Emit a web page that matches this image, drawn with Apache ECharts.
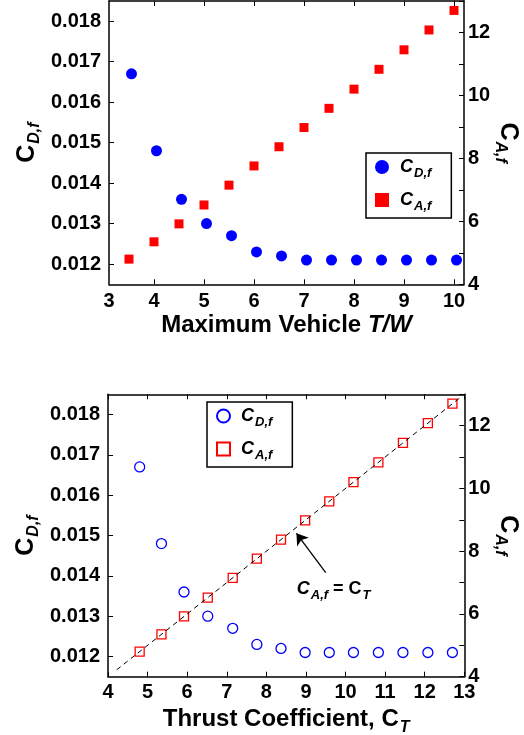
<!DOCTYPE html>
<html>
<head>
<meta charset="utf-8">
<script src="https://cdn.jsdelivr.net/npm/echarts@6/dist/echarts.min.js"></script>
<style>
  html, body { margin: 0; padding: 0; background: #fff; }
  #chart { width: 524px; height: 735px; }
</style>
</head>
<body>
<div id="chart"></div>
<script>
// Upper panel: maximum vehicle T/W for the area-coefficient markers
const thrustToWeight = [3.5, 4, 4.5, 5, 5.5, 6, 6.5, 7, 7.5, 8, 8.5, 9, 9.5, 10];
// Upper panel: T/W positions of the drag-coefficient markers (drawn a touch to the right)
const thrustToWeightDrag = [3.55, 4.05, 4.55, 5.05, 5.55, 6.05, 6.55, 7.05, 7.55, 8.05, 8.55, 9.05, 9.55, 10.05];
// Skin-friction drag coefficient C_D,f
const dragCoef = [0.0167, 0.0148, 0.0136, 0.0130, 0.0127, 0.0123, 0.0122, 0.0121, 0.0121, 0.0121, 0.0121, 0.0121, 0.0121, 0.0121];
// Area coefficient C_A,f (equal to the thrust coefficient C_T)
const areaCoef = [4.8, 5.35, 5.92, 6.52, 7.15, 7.76, 8.37, 8.98, 9.59, 10.2, 10.83, 11.45, 12.08, 12.7];
// Lower panel x values: thrust coefficient C_T
const thrustCoef = [4.8, 5.35, 5.92, 6.52, 7.15, 7.76, 8.37, 8.98, 9.59, 10.2, 10.83, 11.45, 12.08, 12.7];

// Tick values
const twTicks = [4, 5, 6, 7, 8, 9, 10];
const cdTicks = [0.012, 0.013, 0.014, 0.015, 0.016, 0.017, 0.018];
const caLabels = [4, 6, 8, 10, 12];
// Reference line C_A,f = C_T (end points in C_T)
const identityEnds = [4.22, 12.9];
// Annotation text anchor and arrow (C_T, C_A,f)
const noteAnchor = [9.7, 6.8];
const arrowFrom = [9.5, 7.32];
const arrowTo = [8.76, 8.57];

const FONT = '"Liberation Sans", Arial, Helvetica, sans-serif';
const BLUE = '#0000ff';
const RED = '#ff0000';

const zip = (xs, ys) => xs.map((x, i) => [x, ys[i]]);

const tickLabel = { color: '#000', fontFamily: FONT, fontWeight: 'bold', fontSize: 20 };
const frameLine = { show: true, onZero: false, lineStyle: { color: '#000', width: 1.5 } };
const tickIn = { show: true, inside: true, length: 5, lineStyle: { color: '#000', width: 1 } };

const axisTitleRich = {
  c: { fontSize: 25, fontWeight: 'bold', fontFamily: FONT, color: '#000', lineHeight: 28 },
  s: { fontSize: 16, fontWeight: 'bold', fontStyle: 'italic', fontFamily: FONT, color: '#000', lineHeight: 18, padding: [16, 0, 0, 1] },
  n: { fontSize: 24, fontWeight: 'bold', fontFamily: FONT, color: '#000', lineHeight: 28 },
  i: { fontSize: 24, fontWeight: 'bold', fontStyle: 'italic', fontFamily: FONT, color: '#000', lineHeight: 28 }
};

const textRich = {
  c: { fontSize: 18, fontWeight: 'bold', fontStyle: 'italic', fontFamily: FONT, color: '#000', lineHeight: 20 },
  lc: { fontSize: 18, fontWeight: 'bold', fontStyle: 'italic', fontFamily: FONT, color: '#000', lineHeight: 20, padding: [0, 0, 0, 6] },
  s: { fontSize: 13, fontWeight: 'bold', fontStyle: 'italic', fontFamily: FONT, color: '#000', lineHeight: 14, padding: [13, 0, 0, 1] },
  u: { fontSize: 18, fontWeight: 'bold', fontFamily: FONT, color: '#000', lineHeight: 20 }
};

const legendNames = {
  cdTop: '{lc|C}{s|D,f}', caTop: '{lc|C}{s|A,f}',
  cdBottom: '{lc|C}{s|D,f}', caBottom: '{lc|C}{s|A,f}'
};

const cdAxis = (gridIndex) => ({
  type: 'value', gridIndex, position: 'left', min: 0.0115, max: 0.0185,
  axisLine: frameLine,
  axisTick: Object.assign({ customValues: cdTicks }, tickIn),
  axisLabel: Object.assign({ customValues: cdTicks, margin: 8, formatter: v => v.toFixed(3) }, tickLabel),
  splitLine: { show: false },
  name: '{c|C}{s|D,f}', nameLocation: 'middle', nameRotate: 90, nameGap: 68,
  nameMoveOverlap: false,
  nameTextStyle: { rich: axisTitleRich }
});

const caAxis = (gridIndex) => ({
  type: 'value', gridIndex, position: 'right', min: 4, max: 13, interval: 1,
  axisLine: frameLine,
  axisTick: tickIn,
  axisLabel: Object.assign({ customValues: caLabels, margin: 4 }, tickLabel),
  splitLine: { show: false },
  name: '{c|C}{s|A,f}', nameLocation: 'middle', nameRotate: -90, nameGap: 30,
  nameMoveOverlap: false,
  nameTextStyle: { rich: axisTitleRich }
});

const option = {
  animation: false,
  backgroundColor: '#fff',
  grid: [
    { left: 109, top: 1, width: 355, height: 283.3, outerBoundsMode: 'none', containLabel: false },
    { left: 108, top: 394.3, width: 356.3, height: 282.4, outerBoundsMode: 'none', containLabel: false }
  ],
  xAxis: [
    {
      type: 'value', gridIndex: 0, position: 'bottom', min: 3.1, max: 10.2,
      axisLine: frameLine,
      axisTick: Object.assign({ customValues: twTicks }, tickIn),
      axisLabel: Object.assign({ customValues: [3.1].concat(twTicks), margin: 7, formatter: v => String(Math.floor(v)) }, tickLabel),
      splitLine: { show: false },
      name: '{n|Maximum Vehicle }{i|T/W}', nameLocation: 'middle', nameGap: 27,
      nameTextStyle: { rich: axisTitleRich }
    },
    {
      type: 'value', gridIndex: 0, position: 'top', min: 3.1, max: 10.2,
      axisLine: frameLine,
      axisTick: Object.assign({ customValues: twTicks }, tickIn),
      axisLabel: { show: false }, splitLine: { show: false }
    },
    {
      type: 'value', gridIndex: 1, position: 'bottom', min: 4, max: 13, interval: 1,
      axisLine: frameLine, axisTick: tickIn,
      axisLabel: Object.assign({ margin: 6 }, tickLabel),
      splitLine: { show: false },
      name: '{n|Thrust Coefficient, C}{s|T}', nameLocation: 'middle', nameGap: 27,
      nameTextStyle: { rich: axisTitleRich }
    },
    {
      type: 'value', gridIndex: 1, position: 'top', min: 4, max: 13, interval: 1,
      axisLine: frameLine, axisTick: tickIn,
      axisLabel: { show: false }, splitLine: { show: false }
    }
  ],
  yAxis: [cdAxis(0), caAxis(0), cdAxis(1), caAxis(1)],
  legend: [
    {
      orient: 'vertical', left: 366, top: 153,
      data: ['cdTop', 'caTop'],
      itemWidth: 14, itemHeight: 14, itemGap: 7,
      padding: [1, 20, 5, 9],
      borderColor: '#000', borderWidth: 1.5, backgroundColor: '#fff',
      formatter: n => legendNames[n],
      textStyle: { rich: textRich },
      selectedMode: false
    },
    {
      orient: 'vertical', left: 207, top: 402,
      data: ['cdBottom', 'caBottom'],
      itemWidth: 13, itemHeight: 13, itemGap: 7,
      padding: [1, 20, 5, 9],
      borderColor: '#000', borderWidth: 1.5, backgroundColor: '#fff',
      itemStyle: { borderWidth: 2 },
      formatter: n => legendNames[n],
      textStyle: { rich: textRich },
      selectedMode: false
    }
  ],
  series: [
    {
      name: 'caTop', type: 'scatter', xAxisIndex: 0, yAxisIndex: 1,
      symbol: 'rect', symbolSize: 9, itemStyle: { color: RED, opacity: 1 },
      data: zip(thrustToWeight, areaCoef)
    },
    {
      name: 'cdTop', type: 'scatter', xAxisIndex: 0, yAxisIndex: 0,
      symbol: 'circle', symbolSize: 11, itemStyle: { color: BLUE, opacity: 1 },
      data: zip(thrustToWeightDrag, dragCoef)
    },
    {
      name: 'identity', type: 'line', xAxisIndex: 2, yAxisIndex: 3,
      showSymbol: false, symbol: 'none', silent: true,
      lineStyle: { color: '#000', width: 1, type: [5, 4] },
      data: zip(identityEnds, identityEnds)
    },
    {
      name: 'cdBottom', type: 'scatter', xAxisIndex: 2, yAxisIndex: 2,
      symbol: 'circle', symbolSize: 10,
      itemStyle: { color: '#fff', borderColor: BLUE, borderWidth: 1.3, opacity: 1 },
      data: zip(thrustCoef, dragCoef)
    },
    {
      name: 'caBottom', type: 'scatter', xAxisIndex: 2, yAxisIndex: 3,
      symbol: 'rect', symbolSize: 9,
      itemStyle: { color: '#fff', borderColor: RED, borderWidth: 1.3, opacity: 1 },
      data: zip(thrustCoef, areaCoef)
    },
    {
      name: 'note', type: 'scatter', xAxisIndex: 2, yAxisIndex: 3,
      symbolSize: 0, silent: true,
      itemStyle: { color: '#000', opacity: 1 },
      label: {
        show: true, position: 'inside', align: 'center', verticalAlign: 'middle',
        color: '#000', opacity: 1,
        formatter: '{c|C}{s|A,f}{u| = C}{s|T}',
        rich: textRich
      },
      data: [noteAnchor],
      markLine: {
        silent: true, symbol: ['none', 'arrow'], symbolSize: 11,
        label: { show: false },
        itemStyle: { color: '#000' },
        lineStyle: { color: '#000', width: 1.3, type: 'solid', opacity: 1 },
        data: [[{ coord: arrowFrom }, { coord: arrowTo }]]
      }
    }
  ]
};

const chart = echarts.init(document.getElementById('chart'), null, { renderer: 'canvas' });
chart.setOption(option);
</script>
</body>
</html>
